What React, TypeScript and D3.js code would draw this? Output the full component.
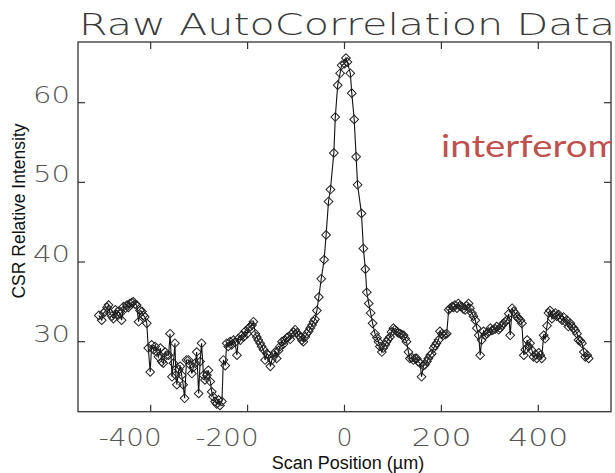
import React from "react";
import * as d3 from "d3";

const scanPos: number[] = [
  -507, -501, -497, -494, -490, -487, -484, -480, -477, -473, -470, -467, -463, -460, -456, -452, -449, -446, -443, -439,
  -436, -432, -429, -425, -422, -418, -415, -412, -408, -405, -401, -398, -394, -391, -387, -384, -380, -377, -374, -370,
  -367, -363, -360, -356, -353, -350, -348, -346, -342, -339, -336, -333, -330, -326, -322, -319, -315, -312, -308, -305,
  -301, -298, -295, -291, -288, -284, -281, -277, -274, -271, -267, -264, -260, -257, -253, -250, -246, -243, -240, -236,
  -233, -229, -226, -222, -219, -215, -212, -208, -205, -201, -198, -194, -191, -188, -184, -181, -178, -174, -171, -167,
  -164, -160, -157, -153, -150, -146, -143, -140, -136, -133, -129, -126, -123, -119, -116, -112, -109, -105, -102, -98,
  -95, -91, -88, -85, -81, -78, -74, -71, -67, -64, -61, -57, -53, -48, -42, -38, -33, -29, -22, -19,
  -14, -9, -6, 0, 3, 6, 12, 15, 20, 24, 27, 35, 39, 43, 46, 50, 54, 58, 63, 67,
  70, 73, 77, 80, 84, 87, 90, 94, 97, 101, 104, 108, 111, 115, 118, 122, 125, 128, 132, 135,
  139, 142, 146, 149, 152, 156, 159, 163, 166, 170, 173, 177, 180, 184, 187, 190, 194, 197, 201, 204,
  208, 211, 215, 218, 222, 225, 228, 232, 235, 238, 242, 245, 249, 252, 256, 259, 263, 266, 270, 273,
  277, 280, 283, 287, 290, 294, 297, 301, 304, 307, 311, 314, 318, 321, 325, 328, 332, 335, 339, 342,
  346, 349, 353, 356, 359, 363, 366, 370, 373, 377, 380, 383, 387, 390, 394, 397, 401, 404, 407, 411,
  414, 418, 421, 424, 428, 431, 435, 438, 442, 445, 449, 452, 456, 459, 462, 466, 469, 473, 476, 480,
  483, 487, 490, 494, 497, 501, 504,
];

const intensity: number[] = [
  33.3, 32.7, 33.6, 33.8, 34.3, 34.6, 33.6, 33.2, 32.9, 34.0, 33.4, 33.8, 33.5, 32.7, 34.4, 34.2, 34.6, 34.3, 34.8, 34.9,
  35.0, 34.7, 34.6, 32.5, 33.9, 33.8, 33.3, 33.1, 32.3, 29.2, 26.2, 29.6, 29.0, 29.4, 28.7, 28.1, 29.2, 27.5, 27.3, 28.7,
  28.3, 28.3, 31.0, 25.6, 27.3, 29.8, 25.8, 24.6, 26.5, 26.9, 25.8, 24.6, 22.9, 27.7, 27.7, 27.1, 26.0, 26.8, 27.3, 28.7,
  23.5, 27.5, 29.8, 25.8, 25.2, 25.8, 26.4, 25.0, 23.7, 23.1, 22.5, 22.2, 22.7, 22.0, 22.5, 27.7, 27.0, 29.8, 29.4, 30.0,
  29.6, 30.2, 29.9, 28.3, 30.4, 30.2, 30.8, 30.6, 31.3, 31.0, 31.7, 31.9, 32.1, 32.5, 31.0, 30.6, 30.2, 29.8, 29.4, 29.0,
  27.7, 28.5, 28.3, 26.9, 27.7, 28.3, 28.7, 27.9, 28.9, 29.4, 30.0, 29.7, 30.2, 30.5, 30.6, 30.3, 31.0, 31.2, 31.5, 31.1,
  30.8, 30.6, 30.2, 30.0, 30.6, 31.0, 31.3, 31.7, 32.1, 32.5, 32.8, 33.9, 35.6, 37.9, 40.3, 43.4, 47.6, 49.1, 53.7, 58.2,
  62.2, 63.7, 64.7, 64.9, 65.6, 65.1, 63.7, 61.2, 57.9, 53.2, 49.7, 46.1, 41.7, 39.1, 36.2, 34.8, 33.6, 32.3, 31.0, 30.5,
  30.0, 29.4, 28.7, 29.2, 29.6, 30.0, 30.3, 30.6, 31.2, 31.7, 31.5, 31.3, 31.1, 31.0, 30.9, 30.8, 30.4, 30.0, 28.7, 27.9,
  28.0, 27.7, 27.9, 27.9, 27.5, 27.3, 25.6, 27.0, 27.1, 27.5, 27.9, 28.3, 28.5, 29.2, 29.5, 29.8, 30.2, 31.3, 31.0, 30.8,
  30.9, 31.0, 34.0, 34.2, 34.4, 34.3, 34.6, 34.2, 34.8, 34.5, 34.4, 34.1, 34.0, 34.5, 34.8, 34.2, 33.6, 33.2, 32.7, 31.7,
  30.8, 28.3, 30.2, 31.3, 30.8, 31.0, 31.2, 31.7, 31.4, 31.5, 31.6, 31.9, 31.5, 31.7, 32.0, 32.3, 32.5, 32.7, 33.5, 30.8,
  34.2, 33.8, 33.5, 33.1, 32.9, 32.7, 32.3, 28.3, 29.0, 30.2, 29.4, 29.8, 28.9, 28.1, 28.4, 27.9, 28.6, 28.3, 27.9, 30.8,
  30.4, 32.0, 33.6, 33.9, 32.9, 33.4, 33.6, 33.2, 33.4, 33.0, 32.7, 33.1, 32.5, 32.7, 31.9, 32.3, 31.9, 31.7, 31.4, 31.0,
  30.2, 30.1, 29.8, 28.7, 28.1, 28.3, 27.9,
];

const xTicks: number[] = [-400, -200, 0, 200, 400];
const xTickLabels: string[] = ["-400", "-200", "0", "200", "400"];
const yTicks: number[] = [30, 40, 50, 60];
const yTickLabels: string[] = ["30", "40", "50", "60"];

const titleText = "Raw AutoCorrelation Data";
const xTitle = "Scan Position (\u00b5m)";
const yTitle = "CSR Relative Intensity";
const overlayText = "interferom";

export default function App() {
  const W = 615;
  const H = 473;
  const left = 78;
  const right = 611;
  const top = 42;
  const bottom = 411.7;

  const x = d3.scaleLinear().domain([-550, 550]).range([left, right]);
  const y = d3.scaleLinear().domain([21.21, 67.62]).range([bottom, top]);

  const pts = scanPos.map((p, i) => [p, intensity[i]] as [number, number]);
  const line = d3
    .line<[number, number]>()
    .x((d) => x(d[0]))
    .y((d) => y(d[1]));
  const diamond = d3.symbol().type(d3.symbolSquare).size(38)() as string;

  const thinFont = "'DejaVu Sans', sans-serif";
  const tickLen = 7;
  const axisColor = "#333";

  const labelBox = (lab: string, t: number) => {
    if (lab.startsWith("-")) return { x0: x(t) - 52, w: 63 };
    const w = lab.length === 1 ? 16 : 60;
    return { x0: x(t) - w / 2, w };
  };

  return (
    <svg
      width={W}
      height={H}
      style={{ position: "absolute", left: 0, top: 0, background: "#fff" }}
    >
      <defs>
        <clipPath id="clipR">
          <rect x={0} y={0} width={612} height={H} />
        </clipPath>
      </defs>
      <rect x={0} y={0} width={W} height={H} fill="#fff" />
      {/* title */}
      <text
        x={79}
        y={35}
        fontFamily={thinFont}
        fontWeight={200}
        fontSize={31}
        fill="#3a3a3a"
        textLength={536}
        lengthAdjust="spacingAndGlyphs"
      >
        {titleText}
      </text>

      {/* frame */}
      <rect
        x={left}
        y={top}
        width={right - left}
        height={bottom - top}
        fill="none"
        stroke={axisColor}
        strokeWidth={1.3}
      />

      {/* x ticks */}
      {xTicks.map((t, i) => {
        const b = labelBox(xTickLabels[i], t);
        return (
          <g key={"xt" + t}>
            <line x1={x(t)} x2={x(t)} y1={bottom} y2={bottom - tickLen} stroke={axisColor} strokeWidth={1.2} />
            <line x1={x(t)} x2={x(t)} y1={top} y2={top + tickLen} stroke={axisColor} strokeWidth={1.2} />
            <text
              x={b.x0}
              y={446}
              fontFamily={thinFont}
              fontWeight={200}
              fontSize={24}
              fill="#555"
              textLength={b.w}
              lengthAdjust="spacingAndGlyphs"
            >
              {xTickLabels[i]}
            </text>
          </g>
        );
      })}

      {/* y ticks */}
      {yTicks.map((t, i) => (
        <g key={"yt" + t}>
          <line x1={left} x2={left + tickLen} y1={y(t)} y2={y(t)} stroke={axisColor} strokeWidth={1.2} />
          <line x1={right} x2={right - tickLen} y1={y(t)} y2={y(t)} stroke={axisColor} strokeWidth={1.2} />
          <text
            x={33}
            y={y(t)}
            fontFamily={thinFont}
            fontWeight={200}
            fontSize={23}
            fill="#555"
            textLength={37}
            lengthAdjust="spacingAndGlyphs"
          >
            {yTickLabels[i]}
          </text>
        </g>
      ))}

      {/* data line */}
      <path d={line(pts) || ""} fill="none" stroke="#111" strokeWidth={1.1} />
      {pts.map((d, i) => (
        <path
          key={"m" + i}
          d={diamond}
          transform={`translate(${x(d[0])},${y(d[1])}) rotate(45)`}
          fill="none"
          stroke="#222"
          strokeWidth={1}
        />
      ))}

      {/* axis titles */}
      <text
        x={348}
        y={469}
        textAnchor="middle"
        fontFamily="'Liberation Sans', Arial, sans-serif"
        fontSize={18}
        fill="#111"
      >
        {xTitle}
      </text>
      <text
        transform={`translate(25,211) rotate(-90)`}
        textAnchor="middle"
        fontFamily="'Liberation Sans', Arial, sans-serif"
        fontSize={17.5}
        fill="#111"
      >
        {yTitle}
      </text>

      {/* overlay red text */}
      <g clipPath="url(#clipR)">
        <text
          x={441}
          y={157}
          fontFamily="Lato, 'Open Sans', sans-serif"
          fontSize={31}
          fill="#C0504D"
          textLength={178}
          lengthAdjust="spacingAndGlyphs"
        >
          {overlayText}
        </text>
      </g>
    </svg>
  );
}
